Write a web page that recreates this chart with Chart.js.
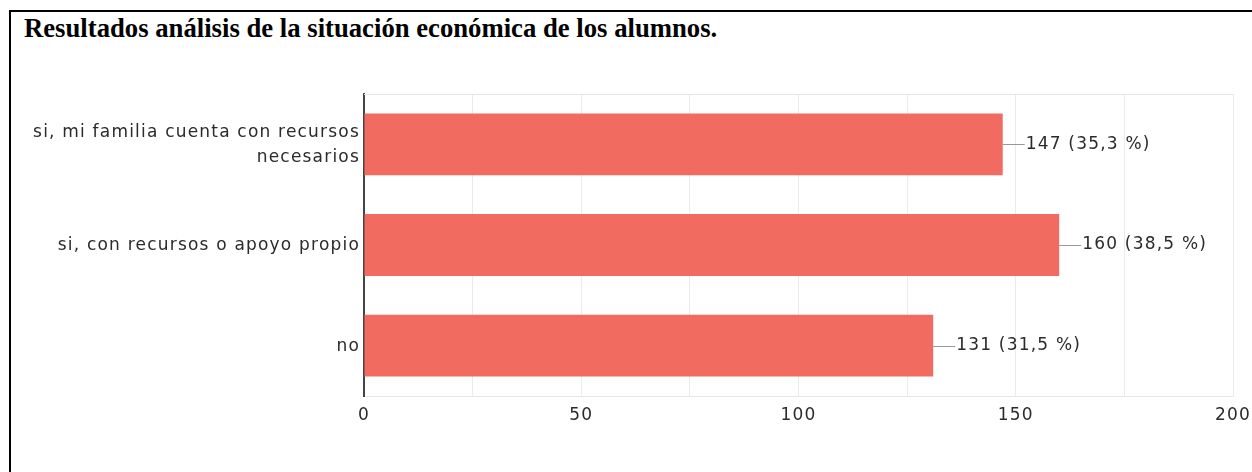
<!DOCTYPE html>
<html>
<head>
<meta charset="utf-8">
<script src="https://cdn.jsdelivr.net/npm/chart.js@4/dist/chart.umd.min.js"></script>
<style>
  html, body { margin: 0; padding: 0; background: #fff; }
  #wrap { position: relative; width: 1252px; height: 472px; overflow: hidden; background: #fff; }
  #frame { position: absolute; left: 9px; top: 10px; width: 1300px; height: 500px;
           border-top: 2px solid #000; border-left: 2px solid #000; }
  #title { position: absolute; left: 24px; top: 15px; margin: 0;
           font-family: "Liberation Serif", "Times New Roman", serif; font-weight: bold;
           font-size: 26.7px; line-height: 27px; color: #000; white-space: nowrap; }
  #c { position: absolute; left: 0; top: 0; }
</style>
</head>
<body>
<div id="wrap">
  <div id="frame"></div>
  <div id="title">Resultados análisis de la situación económica de los alumnos.</div>
  <canvas id="c" width="1252" height="472"></canvas>
</div>
<script>
const categories = [
  ["si, mi familia cuenta con recursos", "necesarios"],
  "si, con recursos o apoyo propio",
  "no"
];
const counts = [147, 160, 131];
const percents = ["35,3", "38,5", "31,5"];
const xTicks = [0, 50, 100, 150, 200];

const TEXT = '#2b2b2b';
const FONT = { family: 'DejaVu Sans, Arial, sans-serif', size: 17 };
const SPACING = '1.2px';

const spacingPlugin = {
  id: 'spacing',
  beforeLayout(chart) { chart.ctx.letterSpacing = SPACING; },
  beforeDraw(chart) { chart.ctx.letterSpacing = SPACING; }
};

const framePlugin = {
  id: 'frameTop',
  beforeDatasetsDraw(chart) {
    const { ctx, chartArea } = chart;
    ctx.save();
    ctx.strokeStyle = '#e6e6e6';
    ctx.lineWidth = 1;
    ctx.beginPath();
    ctx.moveTo(chartArea.left, chartArea.top + 0.5);
    ctx.lineTo(chartArea.right, chartArea.top + 0.5);
    ctx.stroke();
    ctx.restore();
  }
};

const valuePlugin = {
  id: 'values',
  afterDatasetsDraw(chart) {
    const { ctx } = chart;
    const meta = chart.getDatasetMeta(0);
    ctx.save();
    ctx.letterSpacing = SPACING;
    meta.data.forEach((bar, i) => {
      const x = bar.x, y = Math.round(bar.y) + 0.5;
      ctx.strokeStyle = '#999';
      ctx.lineWidth = 1;
      ctx.beginPath();
      ctx.moveTo(x, y);
      ctx.lineTo(x + 22, y);
      ctx.stroke();
      ctx.fillStyle = TEXT;
      ctx.font = `${FONT.size}px ${FONT.family}`;
      ctx.textAlign = 'left';
      ctx.textBaseline = 'middle';
      ctx.fillText(`${counts[i]} (${percents[i]} %)`, x + 23, bar.y);
    });
    ctx.restore();
  }
};

new Chart(document.getElementById('c'), {
  type: 'bar',
  data: {
    labels: categories,
    datasets: [{
      data: counts,
      backgroundColor: '#f26b61',
      borderWidth: 0,
      barPercentage: 0.615,
      categoryPercentage: 1
    }]
  },
  options: {
    indexAxis: 'y',
    responsive: false,
    devicePixelRatio: 1,
    animation: false,
    layout: { padding: { top: 94, right: 19, left: 0, bottom: 0 } },
    plugins: { legend: { display: false }, tooltip: { enabled: false }, title: { display: false } },
    scales: {
      x: {
        min: 0, max: 200,
        afterFit(scale) { scale.height = 76; scale.paddingLeft = 0; scale.paddingRight = 0; },
        afterBuildTicks(scale) {
          scale.ticks = [];
          for (let v = xTicks[0]; v <= xTicks[xTicks.length - 1]; v += 25) scale.ticks.push({ value: v });
        },
        ticks: {
          color: TEXT, font: FONT, padding: 9, maxRotation: 0, autoSkip: false,
          callback: (v) => xTicks.includes(v) ? String(v) : ''
        },
        grid: { color: '#ebebeb', lineWidth: 1, drawTicks: false },
        border: { display: true, color: '#e6e6e6', width: 1 }
      },
      y: {
        afterFit(scale) { scale.width = 364; scale.paddingTop = 0; scale.paddingBottom = 0; },
        ticks: { color: TEXT, font: { ...FONT, lineHeight: '25px' }, padding: 4, labelOffset: 1 },
        grid: { color: 'transparent', drawTicks: false },
        border: { display: true, color: '#444', width: 2 }
      }
    }
  },
  plugins: [spacingPlugin, framePlugin, valuePlugin]
});
</script>
</body>
</html>
